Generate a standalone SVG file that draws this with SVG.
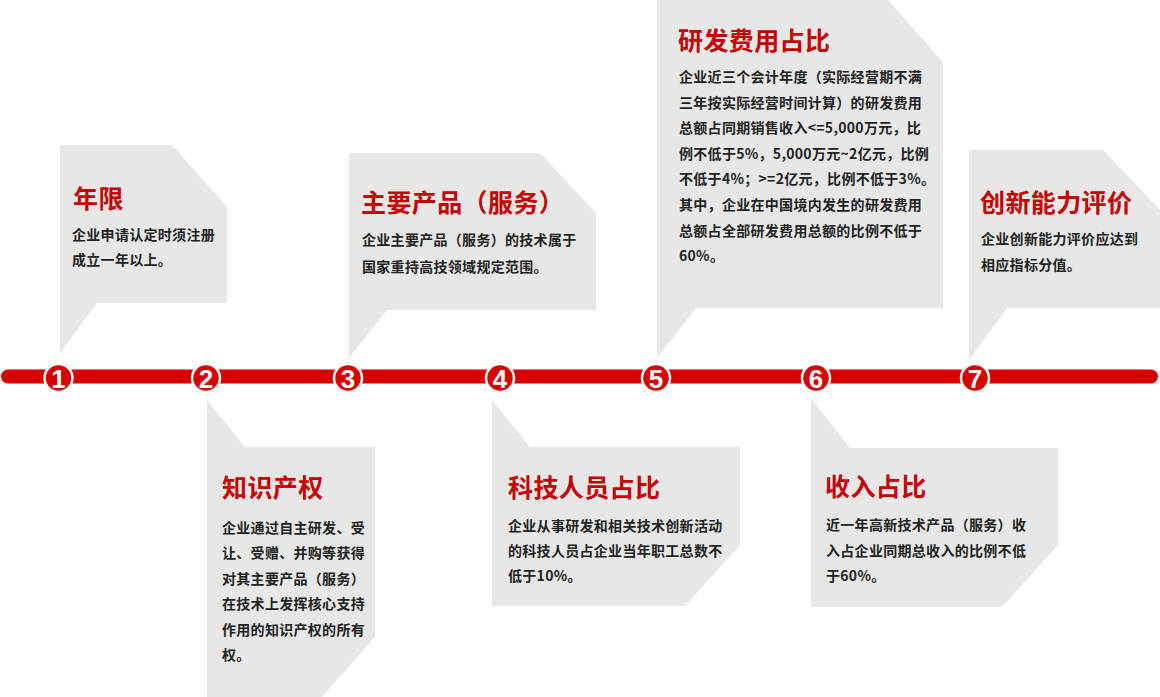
<svg xmlns="http://www.w3.org/2000/svg" width="1160" height="697" viewBox="0 0 1160 697">
<style>
.card{fill:#e7e7e7}
.title{font-family:"Noto Sans CJK SC","Liberation Sans",sans-serif;font-size:25px;font-weight:700;fill:#c70000;letter-spacing:0.4px}
.body{font-family:"Noto Sans CJK SC","Liberation Sans",sans-serif;font-size:14px;font-weight:700;fill:#222;letter-spacing:0.3px}
.dot{fill:#d70000;stroke:#fff;stroke-width:2.5}
.num{font-family:"Liberation Sans","DejaVu Sans",sans-serif;font-size:26px;font-weight:700;fill:#fff;text-anchor:middle}
.bar{fill:#d70000}
</style>
<rect width="1160" height="697" fill="#fff"/>
<g id="connectors">
<rect class="bar" x="1" y="369.5" width="1157" height="14" rx="7"/>
</g>
<g id="node1">
<polygon class="card" points="60,145 172,145 227,207 227,303 97,303 60,353"/>
<text class="title" x="73" y="208">年限</text>
<text class="body" x="72" y="240">企业申请认定时须注册</text>
<text class="body" x="72" y="264.5">成立一年以上。</text>
<circle class="dot" cx="58.5" cy="378" r="14"/>
<text class="num" x="58.5" y="387.5">1</text>
</g>
<g id="node2">
<polygon class="card" points="207,400 245,447 375,447 375,637 322,697 207,697"/>
<text class="title" x="222" y="497">知识产权</text>
<text class="body" x="222" y="532.5">企业通过自主研发、受</text>
<text class="body" x="222" y="558">让、受赠、并购等获得</text>
<text class="body" x="222" y="583.5">对其主要产品（服务）</text>
<text class="body" x="222" y="609">在技术上发挥核心支持</text>
<text class="body" x="222" y="634.5">作用的知识产权的所有</text>
<text class="body" x="222" y="660">权。</text>
<circle class="dot" cx="206" cy="378" r="14"/>
<text class="num" x="206" y="387.5">2</text>
</g>
<g id="node3">
<polygon class="card" points="349,153 540,153 596,213 596,310 387,310 349,358"/>
<text class="title" x="361" y="212">主要产品（服务）</text>
<text class="body" x="362" y="245">企业主要产品（服务）的技术属于</text>
<text class="body" x="362" y="272">国家重持高技领域规定范围。</text>
<circle class="dot" cx="348" cy="378" r="14"/>
<text class="num" x="348" y="387.5">3</text>
</g>
<g id="node4">
<polygon class="card" points="492,400 530,447 740,447 740,545 685,606 492,606"/>
<text class="title" x="508" y="497">科技人员占比</text>
<text class="body" x="508" y="531">企业从事研发和相关技术创新活动</text>
<text class="body" x="508" y="556">的科技人员占企业当年职工总数不</text>
<text class="body" x="508" y="581">低于10%。</text>
<circle class="dot" cx="500" cy="378" r="14"/>
<text class="num" x="500" y="387.5">4</text>
</g>
<g id="node5">
<polygon class="card" points="657,0 888,0 943,62 943,308 696,308 657,358"/>
<text class="title" x="678" y="50">研发费用占比</text>
<text class="body" x="679" y="82">企业近三个会计年度（实际经营期不满</text>
<text class="body" x="679" y="107.6">三年按实际经营时间计算）的研发费用</text>
<text class="body" x="679" y="133.2">总额占同期销售收入&lt;=5,000万元，比</text>
<text class="body" x="679" y="158.8">例不低于5%，5,000万元~2亿元，比例</text>
<text class="body" x="679" y="184.4">不低于4%；&gt;=2亿元，比例不低于3%。</text>
<text class="body" x="679" y="210">其中，企业在中国境内发生的研发费用</text>
<text class="body" x="679" y="235.6">总额占全部研发费用总额的比例不低于</text>
<text class="body" x="679" y="261.2">60%。</text>
<circle class="dot" cx="656" cy="378" r="14"/>
<text class="num" x="656" y="387.5">5</text>
</g>
<g id="node6">
<polygon class="card" points="811,398 850,448 1058,448 1058,545 1002,607 811,607"/>
<text class="title" x="825" y="496">收入占比</text>
<text class="body" x="826" y="530">近一年高新技术产品（服务）收</text>
<text class="body" x="826" y="555.5">入占企业同期总收入的比例不低</text>
<text class="body" x="826" y="581">于60%。</text>
<circle class="dot" cx="816" cy="378" r="14"/>
<text class="num" x="816" y="387.5">6</text>
</g>
<g id="node7">
<polygon class="card" points="969,150 1103,150 1160,210 1160,308 1007,308 969,360"/>
<text class="title" x="980" y="212">创新能力评价</text>
<text class="body" x="981" y="244">企业创新能力评价应达到</text>
<text class="body" x="981" y="270">相应指标分值。</text>
<circle class="dot" cx="975" cy="378" r="14"/>
<text class="num" x="975" y="387.5">7</text>
</g>
</svg>
